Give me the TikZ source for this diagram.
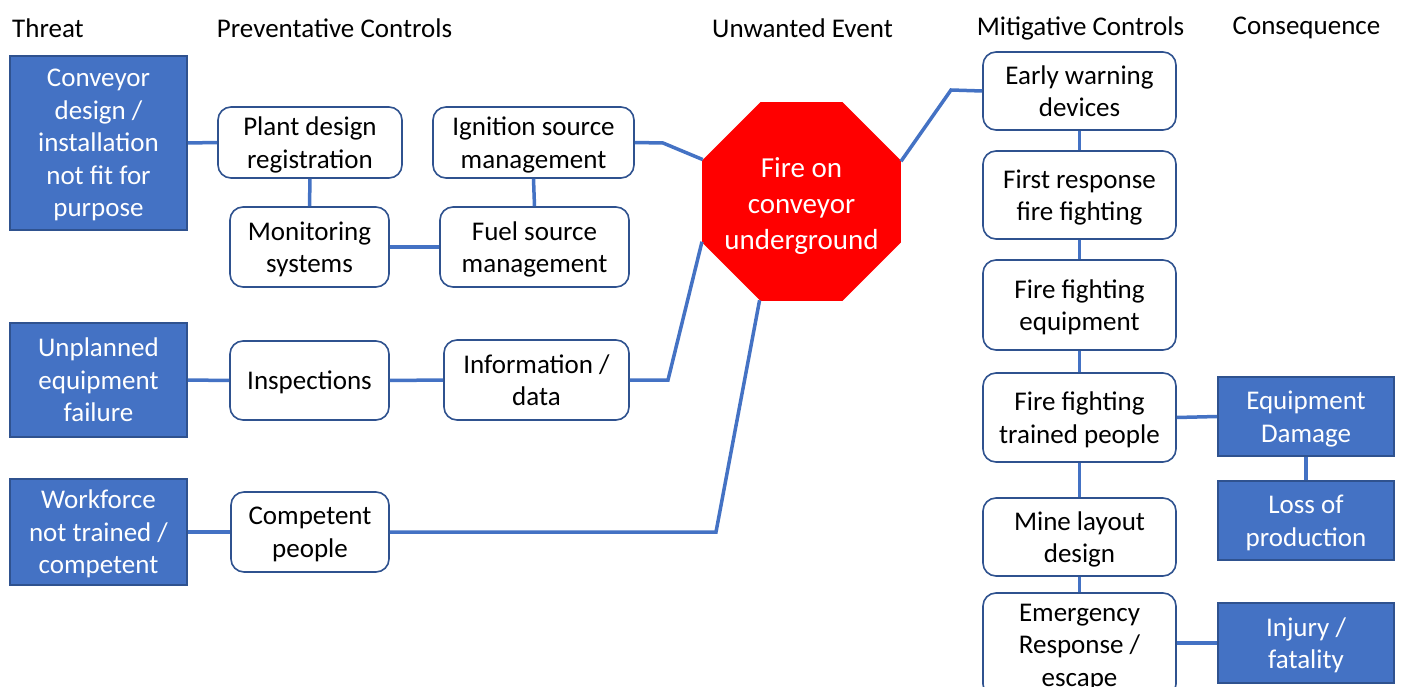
\documentclass[tikz,border=0pt]{standalone}
\usepackage{fontspec}
\setmainfont{Carlito}
\usetikzlibrary{shapes.geometric}
\definecolor{bfill}{HTML}{4472C4}
\definecolor{bdark}{HTML}{2F528F}
\definecolor{firered}{HTML}{FF0000}
\begin{document}
\begin{tikzpicture}[x=1pt,y=-1pt,
 txt/.style={font=\fontsize{27}{32.5}\selectfont, align=center, inner sep=0pt, text depth=0pt},
 threat/.style={txt, draw=bdark, line width=1.6pt, fill=bfill, text=white, minimum width=177pt},
 ctrl/.style={txt, draw=bdark, line width=1.6pt, fill=white, rounded corners=13pt},
 conn/.style={draw=bfill, line width=3.5pt},
 head/.style={font=\fontsize{27}{32}\selectfont, inner sep=0pt}]
\useasboundingbox[fill=white] (0,0) rectangle (1401,687);

% headers
\node[head, anchor=west] (h1) at (12,28) {Threat};
\node[head] (h2) at (334.5,28) {Preventative Controls};
\node[head] (h3) at (802.5,28) {Unwanted Event};
\node[head] (h4) at (1080.5,28) {Mitigative Controls};
\node[head] (h5) at (1306.5,28) {Consequence};

% threats
\node[threat, minimum height=174pt] (t1) at (98.5,143) {Conveyor\\design /\\installation\\not fit for\\purpose};
\node[threat, minimum height=114pt] (t2) at (98.5,380) {Unplanned\\equipment\\failure};
\node[threat, minimum height=106pt] (t3) at (98.5,532) {Workforce\\not trained /\\competent};

% preventative controls
\node[ctrl, minimum width=184pt, minimum height=71pt] (pd) at (310,142.5) {Plant design\\registration};
\node[ctrl, minimum width=159pt, minimum height=80pt] (ms) at (309.5,247) {Monitoring\\systems};
\node[ctrl, minimum width=201pt, minimum height=71pt] (ig) at (533.5,142.5) {Ignition source\\management};
\node[ctrl, minimum width=189pt, minimum height=80pt] (fs) at (534.5,247) {Fuel source\\management};
\node[ctrl, minimum width=159pt, minimum height=79pt] (insp) at (309.5,380.5) {Inspections};
\node[ctrl, minimum width=185pt, minimum height=80pt] (info) at (536.5,380) {Information /\\data};
\node[ctrl, minimum width=158pt, minimum height=80pt] (cp) at (310,532) {Competent\\people};

% unwanted event
\node[regular polygon, regular polygon sides=8, minimum size=215pt, fill=firered, inner sep=0pt] (fire) at (801.5,201.5) {};
\node[text=white, font=\fontsize{29}{36}\selectfont, align=center, inner sep=0pt, text depth=0pt, yshift=-2pt] (firetxt) at (fire.center) {Fire on\\conveyor\\underground};

% mitigative controls
\node[ctrl, minimum width=193pt, minimum height=78pt] (ew) at (1079.5,91) {Early warning\\devices};
\node[ctrl, minimum width=193pt, minimum height=88pt] (fr) at (1079.5,195) {First response\\fire fighting};
\node[ctrl, minimum width=193pt, minimum height=90pt] (ffe) at (1079.5,305) {Fire fighting\\equipment};
\node[ctrl, minimum width=193pt, minimum height=89pt] (fft) at (1079.5,417.5) {Fire fighting\\trained people};
\node[ctrl, minimum width=193pt, minimum height=78pt] (ml) at (1079.5,537) {Mine layout\\design};
\node[ctrl, minimum width=193pt, minimum height=104pt] (er) at (1079.5,645) {Emergency\\Response /\\escape};

% consequences
\node[threat, minimum width=176pt, minimum height=79pt] (ed) at (1306,416.5) {Equipment\\Damage};
\node[threat, minimum width=176pt, minimum height=79pt] (lp) at (1306,520.5) {Loss of\\production};
\node[threat, minimum width=176pt, minimum height=80pt] (inj) at (1306,643) {Injury /\\fatality};

% bend points
\coordinate (b1) at (663,143);
\coordinate (b2) at (668,380);
\coordinate (b3) at (716,532);
\coordinate (b4) at (951,90);

% connectors
\draw[conn] (t1.east) -- (pd.west);
\draw[conn] (pd.south) -- (ms.north);
\draw[conn] (ms.east) -- (fs.west);
\draw[conn] (ig.south) -- (fs.north);
\draw[conn] (ig.east) -- (b1) -- (fire.157.5);
\draw[conn] (t2.east) -- (insp.west);
\draw[conn] (insp.east) -- (info.west);
\draw[conn] (info.east) -- (b2) -- (fire.202.5);
\draw[conn] (t3.east) -- (cp.west);
\draw[conn] (cp.east) -- (b3) -- (fire.247.5);
\draw[conn] (fire.22.5) -- (b4) -- (ew.west);
\draw[conn] (ew.south) -- (fr.north);
\draw[conn] (fr.south) -- (ffe.north);
\draw[conn] (ffe.south) -- (fft.north);
\draw[conn] (fft.south) -- (ml.north);
\draw[conn] (ml.south) -- (er.north);
\draw[conn] (fft.east) -- (ed.west);
\draw[conn] (ed.south) -- (lp.north);
\draw[conn] (inj.west -| er.east) -- (inj.west);
\end{tikzpicture}
\end{document}
